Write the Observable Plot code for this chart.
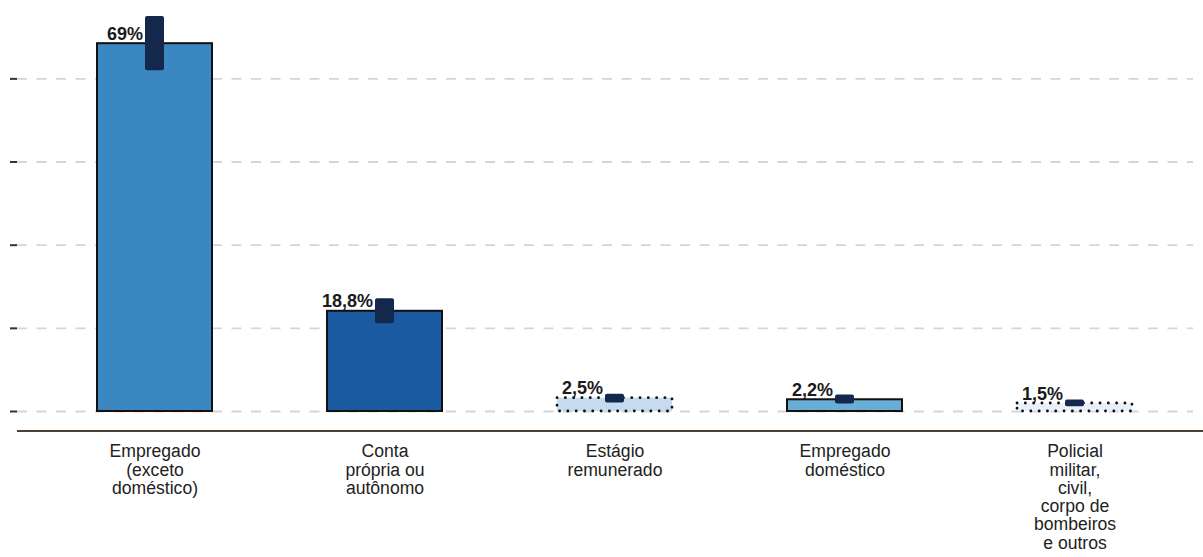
<!DOCTYPE html>
<html>
<head>
<meta charset="utf-8">
<script src="https://cdn.jsdelivr.net/npm/d3@7"></script>
<script src="https://cdn.jsdelivr.net/npm/@observablehq/plot@0.6"></script>
<style>
  html, body { margin: 0; padding: 0; background: #fff; }
  #chart svg { display: block; }
</style>
</head>
<body>
<div id="chart"></div>
<script>
// ---- data ----
const categories = [
  "Empregado\n(exceto\ndoméstico)",
  "Conta\nprópria ou\nautônomo",
  "Estágio\nremunerado",
  "Empregado\ndoméstico",
  "Policial\nmilitar,\ncivil,\ncorpo de\nbombeiros\ne outros"
];
const values = [69, 18.8, 2.5, 2.2, 1.5];
const valueLabels = ["69%", "18,8%", "2,5%", "2,2%", "1,5%"];
const errLow = [63.9, 16.45, 1.6, 1.4, 0.9];
const errHigh = [74.1, 21.15, 3.25, 3.1, 2.15];
const dotted = [false, false, true, false, true];
const gridTicks = [0, 15.6, 31.2, 46.8, 62.4];

// ---- styles ----
const fills = ["#3a87c1", "#1a5aa0", "#c6dbef", "#6aaed6", "#e8f0f9"];

const data = categories.map((c, i) => ({
  cat: c, value: values[i], label: valueLabels[i],
  lo: errLow[i], hi: errHigh[i], dotted: dotted[i], fill: fills[i]
}));

const plot = Plot.plot({
  width: 1203,
  height: 557,
  marginLeft: 17,
  marginRight: 10,
  marginTop: 0,
  marginBottom: 126,
  style: { fontFamily: "'Liberation Sans', Arial, Helvetica, sans-serif", background: "#fff", color: "#3b3127" },
  x: { domain: categories, paddingInner: 0.5, paddingOuter: 0.3065, align: 0.567, axis: null },
  y: { domain: [0, 77.1], insetBottom: 20, ticks: gridTicks, tickSize: 7, tickFormat: () => "", label: null },
  color: { type: "identity" },
  marks: [
    Plot.ruleY(gridTicks, { stroke: "#d5d5d5", strokeWidth: 1.8, strokeDasharray: "10,9.5" }),
    Plot.rectY(data.filter(d => !d.dotted), {
      x: "cat", y: "value", fill: "fill", stroke: "#111", strokeWidth: 2
    }),
    Plot.rectY(data.filter(d => d.dotted), {
      x: "cat", y: "value", fill: "fill", stroke: "#111", strokeWidth: 2.8,
      strokeDasharray: "0.1,8.2", strokeLinecap: "round"
    }),
    Plot.rectY(data, {
      x: "cat", y1: "lo", y2: "hi", fill: "#14284b", insetLeft: 48, insetRight: 48, rx: 2
    }),
    Plot.text(data, {
      x: "cat", y: "value", text: "label", textAnchor: "end", dx: -12, dy: -4,
      lineAnchor: "bottom", fontSize: 18, fontWeight: "bold", fill: "#1a1a1a"
    }),
    Plot.text(data, {
      x: "cat", text: "cat", frameAnchor: "bottom", lineAnchor: "top", dy: 13,
      fontSize: 17.6, lineHeight: 1.035, fill: "#222"
    })
  ]
});

// thicken y ticks
d3.select(plot).selectAll('g[aria-label="y-axis tick"] path, g[aria-label="y-axis"] .tick line')
  .attr("stroke-width", 2);

// x baseline (axis line) just below the frame
const yBase = 557 - 126;
d3.select(plot).append("line")
  .attr("x1", 17).attr("x2", 1203)
  .attr("y1", yBase).attr("y2", yBase)
  .attr("stroke", "#4a4036").attr("stroke-width", 2);

document.getElementById("chart").append(plot);
</script>
</body>
</html>
